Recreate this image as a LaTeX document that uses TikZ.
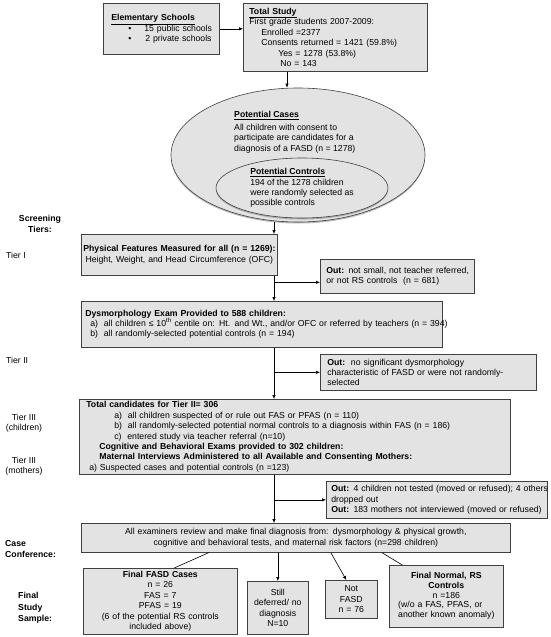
\documentclass[tikz,border=0pt]{standalone}
\usepackage{fontspec}
\setmainfont{Liberation Sans}
\usetikzlibrary{arrows.meta,shapes.geometric,shadows}

\begin{document}
\begin{tikzpicture}[x=1pt,y=-1pt,
  font=\fontsize{8.7}{10.4}\selectfont,
  box/.style={draw=black!75,fill=black!11,line width=0.6pt,anchor=north west,inner ysep=0pt,
    drop shadow={shadow xshift=1pt,shadow yshift=-1pt,fill=black!55}},
  oval/.style={ellipse,draw=black!75,fill=black!11,line width=0.6pt,inner sep=0pt,
    drop shadow={shadow xshift=0pt,shadow yshift=-1.5pt,fill=black!55}},
  arr/.style={-{Latex[length=4pt,width=3.4pt]},line width=0.6pt},
  lab/.style={font=\fontsize{8.7}{11.5}\selectfont\bfseries,inner sep=0pt}]
\useasboundingbox (0,0) rectangle (550,637);

\node[box,minimum width=116pt,minimum height=51pt,text width=108pt,inner xsep=4pt,align=left] (elem) at (103,3)
  {\hspace*{4pt}\underline{\textbf{Elementary Schools}}\\
   \hspace*{21pt}\mbox{•\hspace{13pt}15 public schools}\\
   \hspace*{21pt}\mbox{•\hspace{14pt}2 private schools}};
\node[box,minimum width=184pt,minimum height=68pt,text width=172pt,inner xsep=6pt,align=left] (total) at (243,3)
  {\underline{\textbf{Total Study}}\\
   First grade students 2007-2009:\\
   \hspace*{12pt}Enrolled =2377\\
   \hspace*{12pt}Consents returned = 1421 (59.8\%)\\
   \hspace*{29pt}Yes = 1278 (53.8\%)\\
   \hspace*{31pt}No = 143};

\node[oval,minimum width=254pt,minimum height=134pt] (cases) at (298,155) {};
\node[anchor=north west,inner sep=0pt,align=left] (casestxt) at (234,111)
  {\underline{\textbf{Potential Cases}}\\[2.5pt]
   All children with consent to\\
   participate are candidates for a\\
   diagnosis of a FASD (n = 1278)};
\node[oval,minimum width=172pt,minimum height=60pt,align=left] (controls) at (302,188)
  {\underline{\textbf{Potential Controls}}\\
   194 of the 1278 children\\
   were randomly selected as\\
   possible controls};

\node[lab,align=center] (screen) at (40,224) {Screening\\Tiers:};
\node[anchor=west,inner sep=0pt] (tier1) at (6,255) {Tier I};
\node[anchor=west,inner sep=0pt] (tier2) at (6,360) {Tier II};
\node[align=center,inner sep=0pt] (tier3c) at (24,423) {Tier III\\(children)};
\node[align=center,inner sep=0pt] (tier3m) at (24,466) {Tier III\\(mothers)};
\node[lab,anchor=west,align=left] (conf) at (5,549) {Case\\Conference:};
\node[lab,anchor=west,align=left] (sample) at (18,608) {Final\\Study\\Sample:};

\node[box,minimum width=196pt,minimum height=41pt,text width=192pt,inner xsep=2pt,align=center] (phys) at (81,234)
  {\mbox{\textbf{Physical Features Measured for all (n = 1269):}}\\
   Height, Weight, and Head Circumference (OFC)};
\node[box,minimum width=154pt,minimum height=34pt,text width=142pt,inner xsep=6pt,align=left] (out1) at (320,259)
  {\mbox{\textbf{Out:} not small, not teacher referred,}\\
   or not RS controls\ \ (n = 681)};
\node[box,minimum width=361pt,minimum height=46pt,text width=353pt,inner xsep=4pt,align=left] (dys) at (81,301)
  {\textbf{Dysmorphology Exam Provided to 588 children:}\\
   \hspace*{5pt}\mbox{a)\ \ all children ≤ 10\textsuperscript{th} centile on: Ht. and Wt., and/or OFC or referred by teachers (n = 394)}\\
   \hspace*{5pt}b)\ \ all randomly-selected potential controls (n = 194)};
\node[box,minimum width=216pt,minimum height=36pt,text width=202pt,inner xsep=7pt,align=left] (out2) at (320,354)
  {\textbf{Out:}\ \ no significant dysmorphology\\
   \mbox{characteristic of FASD or were not randomly-}\\
   selected};
\node[box,minimum width=431pt,minimum height=75pt,text width=417pt,inner xsep=7pt,align=left] (t3) at (79,399)
  {\textbf{Total candidates for Tier II= 306}\\
   \hspace*{28pt}a)\ \ all children suspected of or rule out FAS or PFAS (n = 110)\\
   \hspace*{28pt}\mbox{b)\ \ all randomly-selected potential normal controls to a diagnosis within FAS (n = 186)}\\
   \hspace*{28pt}c)\ \ entered study via teacher referral (n=10)\\
   \hspace*{13pt}\textbf{Cognitive and Behavioral Exams provided to 302 children:}\\
   \hspace*{13pt}\mbox{\textbf{Maternal Interviews Administered to all Available and Consenting Mothers:}}\\
   \hspace*{3pt}a) Suspected cases and potential controls (n =123)};
\node[box,minimum width=221pt,minimum height=37pt,text width=211pt,inner xsep=5pt,align=left] (out3) at (326,481)
  {\mbox{\textbf{Out:} 4 children not tested (moved or refused); 4 others}\\
   dropped out\\
   \mbox{\textbf{Out:} 183 mothers not interviewed (moved or refused)}};
\node[box,minimum width=429pt,minimum height=29pt,text width=425pt,inner xsep=2pt,align=center] (case) at (81,523)
  {All examiners review and make final diagnosis from: dysmorphology \& physical growth,\\
   cognitive and behavioral tests, and maternal risk factors (n=298 children)};

\node[box,minimum width=154pt,minimum height=66pt,text width=150pt,inner xsep=2pt,align=center] (fasd) at (83,568)
  {\textbf{Final FASD Cases}\\n = 26\\FAS = 7\\PFAS = 19\\(6 of the potential RS controls\\included above)};
\node[box,minimum width=61pt,minimum height=53pt,text width=57pt,inner xsep=2pt,align=center] (still) at (247,581)
  {Still\\deferred/ no\\diagnosis\\N=10};
\node[box,minimum width=52pt,minimum height=38pt,text width=48pt,inner xsep=2pt,align=center] (notf) at (325,580)
  {Not\\FASD\\n = 76};
\node[box,minimum width=114pt,minimum height=62pt,text width=110pt,inner xsep=2pt,align=center] (norm) at (389,565)
  {\textbf{Final Normal, RS}\\\textbf{Controls}\\n =186\\
   \begin{tabular}{@{}l@{}}(w/o a FAS, PFAS, or\\another known anomaly)\end{tabular}};

\coordinate (col) at (274,0);
\coordinate (top) at (287,0);
\draw[arr] (elem.east) -- (elem.east -| total.west);
\draw[arr] (total.south -| top) -- (cases.north -| top);
\draw[arr] (cases.south -| col) -- (phys.north -| col);
\draw[arr] (phys.south -| col) -- (dys.north -| col);
\draw[arr] ([yshift=-6pt]out1.west -| col) -- ([yshift=-6pt]out1.west);
\draw[arr] (dys.south -| col) -- (t3.north -| col);
\draw[arr] (out2.west -| col) -- (out2.west);
\draw[arr] (t3.south -| col) -- (case.north -| col);
\draw[arr] (out3.west -| col) -- (out3.west);
\draw[line width=0.6pt] ([xshift=-87pt]case.south) -- ([xshift=14pt]fasd.north);
\draw[arr] (case.south -| still.north) -- (still.north);
\draw[arr] ([xshift=35pt]case.south) -- ([xshift=-5pt]notf.north);
\draw[line width=0.6pt] ([xshift=86pt]case.south) -- ([xshift=-44pt]norm.north);

\end{tikzpicture}
\end{document}
